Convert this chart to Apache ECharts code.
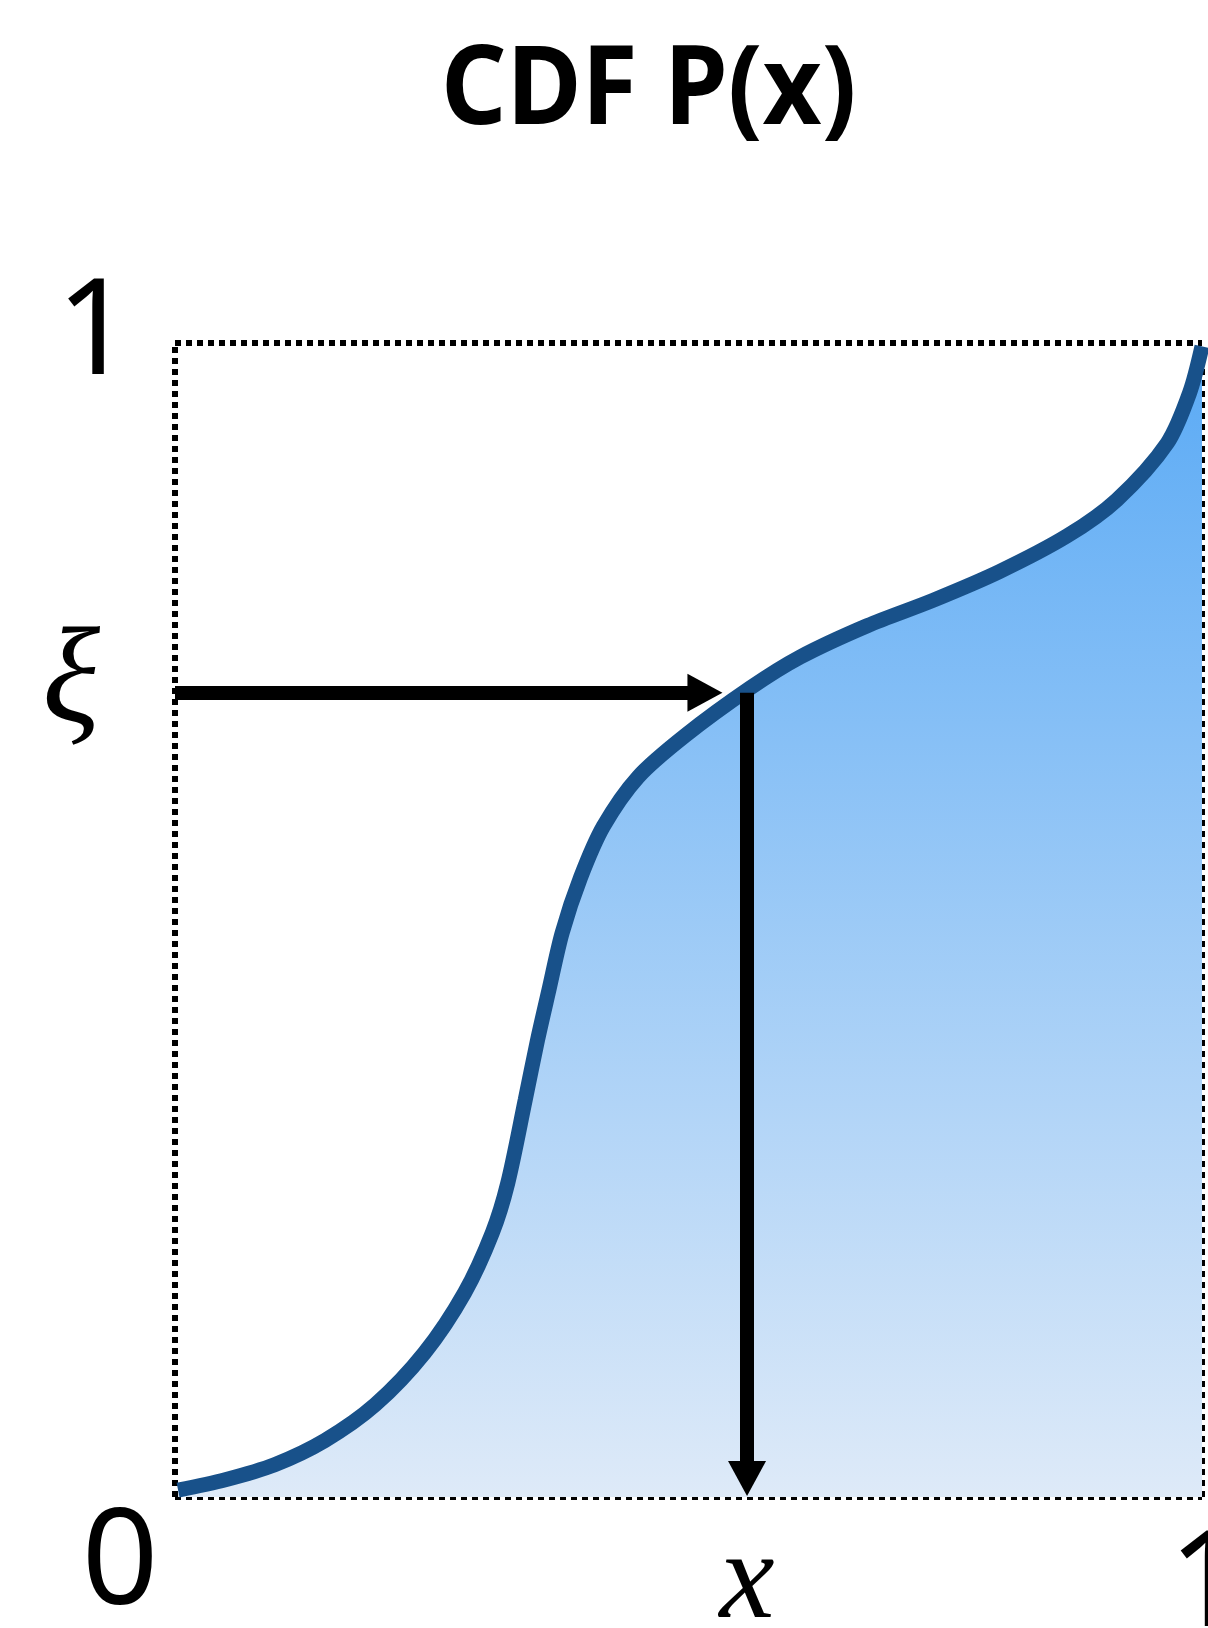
<!DOCTYPE html>
<html>
<head>
<meta charset="utf-8">
<title>CDF P(x)</title>
<script src="https://cdn.jsdelivr.net/npm/echarts@6/dist/echarts.min.js"></script>
<style>
  html, body { margin: 0; padding: 0; background: #fff; }
  #main { width: 1208px; height: 1628px; }
</style>
</head>
<body>
<div id="main"></div>
<script>
// CDF curve: x and P(x)
var cdfX = [0.003, 0.049, 0.097, 0.146, 0.195, 0.243, 0.282, 0.309, 0.324, 0.341, 0.353, 0.364,
            0.377, 0.395, 0.417, 0.451, 0.497, 0.560, 0.609, 0.674, 0.738, 0.803, 0.869, 0.917,
            0.966, 0.988, 1.0];
var cdfY = [0.006, 0.015, 0.028, 0.049, 0.080, 0.125, 0.177, 0.229, 0.272, 0.344, 0.396, 0.439,
            0.489, 0.537, 0.581, 0.624, 0.660, 0.701, 0.728, 0.755, 0.777, 0.802, 0.833, 0.864,
            0.913, 0.957, 0.997];

// sampled value and its inverse
var xi = 0.697;
var xPick = 0.557;
// where the arrow shafts stop (arrow heads sit on these)
var arrowEndX = 0.516;
var arrowEndY = 0.016;

var xTicks = [0, xPick, 1];
var xTickText = ['zero', 'xv', 'one'];
var yTicks = [xi, 1];
var yTickText = ['xi', 'top'];
var xLabelChars = { zero: '0', xv: 'x', one: '1' };
var yLabelChars = { xi: 'ξ', top: '1' };

function pickIndex(list, v) {
  for (var i = 0; i < list.length; i++) {
    if (Math.abs(list[i] - v) < 1e-6) return i;
  }
  return -1;
}

var sans = '"Noto Sans", "Open Sans", sans-serif';
var serif = '"Liberation Serif", "DejaVu Serif", serif';

// dotted frame round the unit square
var frameLine = { show: true, onZero: false, lineStyle: { color: '#000', width: 6, type: [6, 5], cap: 'butt' } };

var chart = echarts.init(document.getElementById('main'));

var option = {
  animation: false,
  backgroundColor: '#fff',
  // title drawn as a squeezed bold text so it looks condensed
  graphic: [{
    type: 'text',
    x: 441,
    y: 38,
    scaleX: 0.93,
    style: {
      text: 'CDF P(x)',
      fill: '#000',
      fontFamily: sans,
      fontWeight: 'bold',
      fontSize: 110,
      textAlign: 'left',
      textVerticalAlign: 'top'
    }
  }],
  grid: {
    left: 175,
    right: 6,
    top: 343,
    bottom: 131,
    outerBoundsMode: 'none'
  },
  xAxis: [{
    type: 'value',
    position: 'bottom',
    min: 0,
    max: 1,
    interval: 1,
    axisLine: frameLine,
    axisTick: { show: false },
    splitLine: { show: false },
    axisLabel: {
      customValues: xTicks,
      margin: -6,
      formatter: function (v) {
        var k = xTickText[pickIndex(xTicks, v)];
        return '{' + k + '|' + xLabelChars[k] + '}';
      },
      rich: {
        zero: { fontFamily: sans, fontSize: 134, color: '#000', padding: [8, 110, 0, 0] },
        xv: { fontFamily: serif, fontStyle: 'italic', fontSize: 124, color: '#000', padding: [31, 0, 0, 0] },
        one: { fontFamily: sans, fontSize: 134, color: '#000', padding: [30, 0, 0, 10] }
      }
    }
  }, {
    type: 'value',
    position: 'top',
    min: 0,
    max: 1,
    axisLine: frameLine,
    axisTick: { show: false },
    axisLabel: { show: false },
    splitLine: { show: false }
  }],
  yAxis: [{
    type: 'value',
    position: 'left',
    min: 0,
    max: 1,
    interval: 1,
    axisLine: frameLine,
    axisTick: { show: false },
    splitLine: { show: false },
    axisLabel: {
      customValues: yTicks,
      margin: 42,
      formatter: function (v) {
        var k = yTickText[pickIndex(yTicks, v)];
        return '{' + k + '|' + yLabelChars[k] + '}';
      },
      rich: {
        xi: { fontFamily: serif, fontStyle: 'italic', fontSize: 135, color: '#000', padding: [0, 33, 14, 0] },
        top: { fontFamily: sans, fontSize: 134, color: '#000', padding: [0, 0, 14, 0] }
      }
    }
  }, {
    type: 'value',
    position: 'right',
    min: 0,
    max: 1,
    axisLine: frameLine,
    axisTick: { show: false },
    axisLabel: { show: false },
    splitLine: { show: false }
  }],
  series: [
    {
      type: 'line',
      data: cdfX.map(function (x, i) { return [x, cdfY[i]]; }),
      smooth: 0.3,
      symbol: 'none',
      z: 3,
      lineStyle: { color: '#18518a', width: 15 },
      areaStyle: {
        opacity: 1,
        color: new echarts.graphic.LinearGradient(0, 0, 0, 1, [
          { offset: 0, color: '#5aaaf5' },
          { offset: 1, color: '#deeaf8' }
        ])
      },
      markLine: {
        silent: true,
        symbol: ['none', 'triangle'],
        symbolSize: [38, 35],
        label: { show: false },
        lineStyle: { color: '#000', width: 14, type: 'solid', opacity: 1 },
        data: [
          [{ coord: [0, xi] }, { coord: [arrowEndX, xi] }],
          [{ coord: [xPick, xi] }, { coord: [xPick, arrowEndY] }]
        ]
      }
    }
  ]
};

chart.setOption(option);
</script>
</body>
</html>
